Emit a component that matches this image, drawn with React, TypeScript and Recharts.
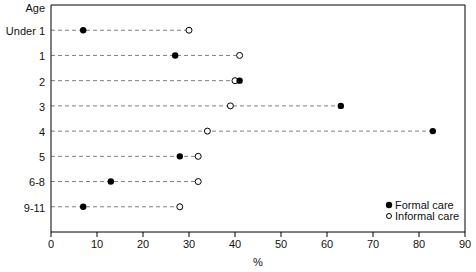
import {
  ScatterChart,
  Scatter,
  XAxis,
  YAxis,
  ReferenceLine,
  Legend,
} from "recharts"

const ageGroups = ["Under 1", "1", "2", "3", "4", "5", "6-8", "9-11"]
const formalCare = [7, 27, 41, 63, 83, 28, 13, 7]
const informalCare = [30, 41, 40, 39, 34, 32, 32, 28]
const xTicks = [0, 10, 20, 30, 40, 50, 60, 70, 80, 90]
const rowLabels = ["Age", ...ageGroups]

const font = "'Liberation Sans', Arial, sans-serif"

const formalPts = ageGroups.map((a, i) => ({ row: i + 1, value: formalCare[i], age: a }))
const informalPts = ageGroups.map((a, i) => ({ row: i + 1, value: informalCare[i], age: a }))

const YTick = ({ x, y, payload }: any) => {
  const shift = payload.value === 0 ? 3 : 1
  return (
    <text
      x={x}
      y={y + shift}
      dy="0.355em"
      textAnchor="end"
      fontSize={11}
      fontFamily={font}
      fill="#111"
    >
      {rowLabels[payload.value]}
    </text>
  )
}

const FilledDot = ({ cx, cy }: any) => <circle cx={cx} cy={cy} r={3.2} fill="#000" />
const OpenDot = ({ cx, cy }: any) => (
  <circle cx={cx} cy={cy} r={3} fill="#fff" stroke="#000" strokeWidth={1} />
)

const LegendBox = () => (
  <div style={{ fontFamily: font, fontSize: 11, lineHeight: "10.5px", color: "#111" }}>
    <div style={{ display: "flex", alignItems: "center" }}>
      <svg width={8} height={8}>
        <circle cx={4} cy={4} r={3.2} fill="#000" />
      </svg>
      <span style={{ marginLeft: 2 }}>Formal care</span>
    </div>
    <div style={{ display: "flex", alignItems: "center" }}>
      <svg width={8} height={8}>
        <circle cx={4} cy={4} r={2.5} fill="#fff" stroke="#000" />
      </svg>
      <span style={{ marginLeft: 2 }}>Informal care</span>
    </div>
  </div>
)

export default function App() {
  return (
    <div style={{ position: "absolute", left: 0, top: 0, background: "#fff" }}>
      <ScatterChart
        width={476}
        height={272}
        margin={{ top: 0, right: 11, left: 0, bottom: 0 }}
      >
        <XAxis
          type="number"
          dataKey="value"
          domain={[0, 90]}
          ticks={xTicks}
          interval={0}
          height={40}
          tickSize={5}
          tickMargin={3}
          stroke="#000"
          tick={{ fontSize: 11, fontFamily: font, fill: "#111" }}
          label={{
            value: "%",
            position: "insideBottom",
            offset: 6,
            fontSize: 11,
            fontFamily: font,
            fill: "#111",
          }}
        />
        <XAxis
          xAxisId="top"
          orientation="top"
          type="number"
          dataKey="value"
          domain={[0, 90]}
          ticks={xTicks}
          interval={0}
          height={5}
          tickSize={-5}
          stroke="#000"
          tick={false}
        />
        <YAxis
          type="number"
          dataKey="row"
          domain={[0, 9]}
          ticks={[0, 1, 2, 3, 4, 5, 6, 7, 8]}
          interval={0}
          reversed
          width={51}
          tickSize={4}
          tickMargin={2}
          tickLine={false}
          stroke="#000"
          tick={<YTick />}
        />
        <ReferenceLine x={90} stroke="#000" />
        {ageGroups.map((a, i) => (
          <ReferenceLine
            key={a}
            segment={[
              { x: 0, y: i + 1 },
              { x: Math.max(formalCare[i], informalCare[i]), y: i + 1 },
            ]}
            stroke="#808080"
            strokeDasharray="4 3"
          />
        ))}
        <Scatter
          name="Informal care"
          data={informalPts}
          shape={<OpenDot />}
          isAnimationActive={false}
        />
        <Scatter
          name="Formal care"
          data={formalPts}
          shape={<FilledDot />}
          isAnimationActive={false}
        />
        <Scatter
          xAxisId="top"
          data={informalPts}
          shape={() => null}
          isAnimationActive={false}
          legendType="none"
        />
        <Legend
          layout="vertical"
          align="center"
          verticalAlign="middle"
          content={<LegendBox />}
          wrapperStyle={{ left: 385, top: 200, width: "auto" }}
        />
      </ScatterChart>
    </div>
  )
}
